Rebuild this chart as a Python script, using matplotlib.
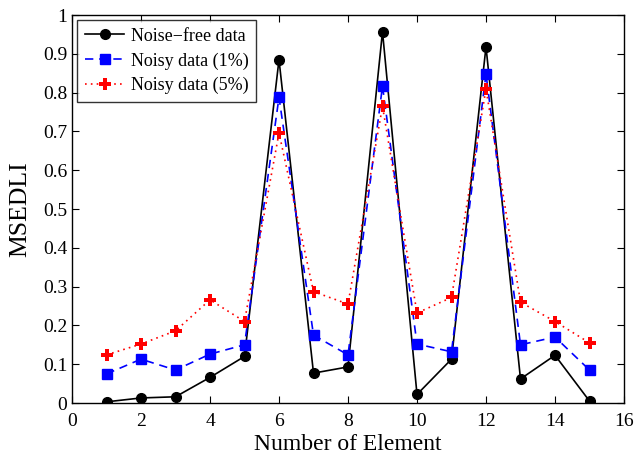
import matplotlib
matplotlib.use("Agg")
import matplotlib.pyplot as plt

plt.rcParams['font.family'] = ['Liberation Serif', 'DejaVu Serif']
plt.rcParams['mathtext.fontset'] = 'stix'

elements = list(range(1, 16))
noise_free = [0.003, 0.013, 0.016, 0.066, 0.120, 0.885, 0.077, 0.093, 0.957, 0.022, 0.113, 0.918, 0.062, 0.123, 0.005]
noisy_1 = [0.075, 0.113, 0.085, 0.126, 0.150, 0.788, 0.175, 0.124, 0.817, 0.152, 0.132, 0.848, 0.150, 0.170, 0.085]
noisy_5 = [0.124, 0.152, 0.186, 0.266, 0.210, 0.696, 0.287, 0.255, 0.765, 0.232, 0.272, 0.810, 0.260, 0.210, 0.155]

fig = plt.figure(figsize=(6.34, 4.61), dpi=100)
ax = fig.add_axes([72 / 634, 58 / 461, 552 / 634, 388 / 461])

ax.plot(elements, noise_free, color='black', linestyle='-', marker='o', markersize=7, linewidth=1.2, label='Noise\u2212free data')
ax.plot(elements, noisy_1, color='blue', linestyle=(0, (5, 3.5)), marker='s', markersize=6.5, linewidth=1.2, label='Noisy data (1%)')
ax.plot(elements, noisy_5, color='red', linestyle=(0, (1, 2.5)), marker='P', markersize=8, linewidth=1.2, label='Noisy data (5%)', markeredgewidth=0)

ax.set_xlim(0, 16)
ax.set_ylim(0, 1)
ax.set_xticks(range(0, 17, 2))
ax.set_yticks([i / 10 for i in range(11)])
ax.set_yticklabels(['0', '0.1', '0.2', '0.3', '0.4', '0.5', '0.6', '0.7', '0.8', '0.9', '1'])
ax.tick_params(direction='in', top=True, right=True, labelsize=14, length=5)
ax.tick_params(axis='x', pad=7)
ax.set_xlabel('Number of Element', fontsize=17, labelpad=3)
ax.set_ylabel('MSEDLI', fontsize=18.5, labelpad=8)
for s in ax.spines.values():
    s.set_linewidth(1.0)

leg = ax.legend(loc='upper left', fontsize=13, frameon=True, fancybox=False, edgecolor='black',
                borderaxespad=0.3, handlelength=2.2, handletextpad=0.35, labelspacing=0.42,
                borderpad=0.4)
leg.get_frame().set_linewidth(1.0)

fig.savefig('out.png', dpi=100)
